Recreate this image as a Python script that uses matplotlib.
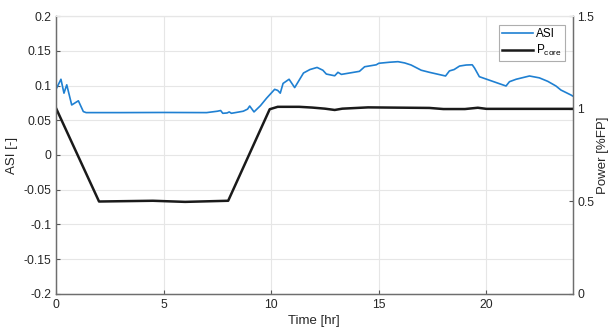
import numpy as np
import matplotlib.pyplot as plt

plt.rcParams['font.family'] = ['Liberation Sans', 'DejaVu Sans']
plt.rcParams['mathtext.default'] = 'regular'

# axial shape index over the day
asi_t = [0, 0.23, 0.37, 0.5, 0.73, 1.04, 1.27, 1.4, 3, 5, 7, 7.5, 7.65, 7.75,
         7.95, 8.05, 8.15, 8.7, 8.9, 9.0, 9.2, 9.5, 9.78, 10.16, 10.3, 10.42,
         10.55, 10.83, 11.09, 11.5, 11.8, 12.13, 12.4, 12.56, 12.95, 13.1,
         13.26, 14.1, 14.34, 14.88, 15.0, 15.5, 15.89, 16.2, 16.5, 16.97,
         17.35, 18.1, 18.28, 18.5, 18.75, 19.06, 19.34, 19.45, 19.67, 20.91,
         21.07, 21.38, 22.0, 22.46, 22.85, 23.23, 23.46, 23.93, 24.0]
asi = [0.0945, 0.109, 0.089, 0.101, 0.072, 0.078, 0.0625, 0.061, 0.061,
       0.0612, 0.061, 0.063, 0.064, 0.060, 0.0605, 0.062, 0.060, 0.063,
       0.066, 0.0705, 0.062, 0.071, 0.0816, 0.0945, 0.093, 0.089, 0.103,
       0.109, 0.097, 0.118, 0.123, 0.126, 0.122, 0.1165, 0.114, 0.119, 0.116,
       0.1204, 0.127, 0.1298, 0.132, 0.1335, 0.1343, 0.1325, 0.1295, 0.122,
       0.119, 0.1137, 0.121, 0.123, 0.128, 0.1295, 0.1298, 0.125, 0.1127,
       0.0993, 0.1055, 0.109, 0.1137, 0.111, 0.106, 0.0993, 0.0935, 0.0863,
       0.085]

# core power in fraction of full power
pwr_t = [0, 2, 4.5, 6, 8, 9.93, 10.3, 11.3, 11.9, 12.5, 12.95, 13.3, 14.5,
         17.35, 18.0, 19.0, 19.6, 20.0, 24]
pwr = [1.003, 0.499, 0.503, 0.497, 0.503, 0.997, 1.01, 1.01, 1.006, 1.0,
       0.993, 1.0, 1.007, 1.004, 0.998, 0.998, 1.005, 0.999, 0.999]

fig = plt.figure(figsize=(6.12, 3.27), dpi=100)
ax = fig.add_axes([0.0915, 0.101, 0.844, 0.850])
ax2 = ax.twinx()

l1, = ax.plot(asi_t, asi, color='#1f80d2', lw=1.2)
l2, = ax2.plot(pwr_t, pwr, color='#1a1a1a', lw=1.8)

ax.set_xlim(0, 24)
ax.set_ylim(-0.2, 0.2)
ax.set_xticks([0, 5, 10, 15, 20])
ax.set_yticks(np.arange(-0.2, 0.201, 0.05))
ax.set_yticklabels(['-0.2', '-0.15', '-0.1', '-0.05', '0', '0.05', '0.1', '0.15', '0.2'])
ax2.set_ylim(0, 1.5)
ax2.set_yticks([0, 0.5, 1, 1.5])
ax2.set_yticklabels(['0', '0.5', '1', '1.5'])

ax.grid(True, color='#e6e6e6', lw=0.8)
ax.set_axisbelow(True)

for a in (ax, ax2):
    a.tick_params(direction='in', length=3, width=0.8, colors='#555555',
                  labelcolor='#262626', labelsize=8.8)
    for side in ('left', 'right', 'bottom'):
        a.spines[side].set_color('#6e6e6e')
        a.spines[side].set_linewidth(0.9)
    a.spines['top'].set_color('#e6e6e6')
ax.tick_params(top=False)

ax.set_xlabel('Time [hr]', fontsize=9.5, color='#262626', labelpad=3)
ax.set_ylabel('ASI [-]', fontsize=9.5, color='#262626', labelpad=4)
ax2.set_ylabel('Power [%FP]', fontsize=9.5, color='#262626', labelpad=2)

leg = ax2.legend([l1, l2], ['ASI', 'P$_{core}$'], loc='upper right',
                 bbox_to_anchor=(0.99, 0.975), fontsize=8.5, frameon=True,
                 fancybox=False, handlelength=2.6, handletextpad=0.3,
                 borderpad=0.25, labelspacing=0.2, borderaxespad=0.2)
leg.get_frame().set_edgecolor('#9a9a9a')
leg.get_frame().set_linewidth(0.8)

fig.savefig('out.png', dpi=100)
